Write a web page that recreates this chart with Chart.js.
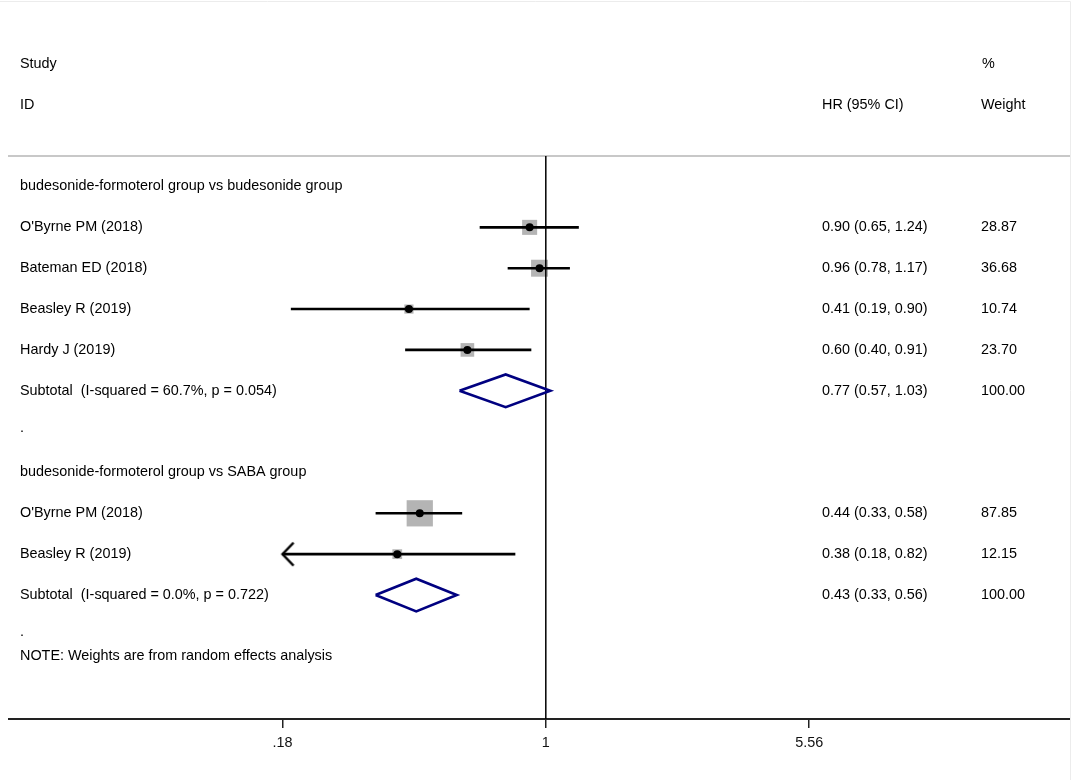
<!DOCTYPE html>
<html>
<head>
<meta charset="utf-8">
<script src="https://cdn.jsdelivr.net/npm/chart.js@4.4.1/dist/chart.umd.min.js"></script>
<style>
  html, body { margin: 0; padding: 0; background: #fff; }
  #wrap { width: 1072px; height: 780px; position: relative; }
</style>
</head>
<body>
<div id="wrap"><canvas id="forest"></canvas></div>
<script>
// Study rows
const studyLabels = ["O'Byrne PM (2018)", "Bateman ED (2018)", "Beasley R (2019)", "Hardy J (2019)",
                     "O'Byrne PM (2018)", "Beasley R (2019)"];
const studyRows = [1, 2, 3, 4, 8, 9];
const studyHR = [0.90, 0.96, 0.41, 0.60, 0.44, 0.38];
const studyLo = [0.65, 0.78, 0.19, 0.40, 0.33, 0.18];
const studyHi = [1.24, 1.17, 0.90, 0.91, 0.58, 0.82];
const studyWeight = [28.87, 36.68, 10.74, 23.70, 87.85, 12.15];

// Subgroup pooled rows
const groupLabels = ["budesonide-formoterol group vs budesonide group",
                     "budesonide-formoterol group vs SABA group"];
const groupRows = [0, 7];
const subLabels = ["Subtotal  (I-squared = 60.7%, p = 0.054)", "Subtotal  (I-squared = 0.0%, p = 0.722)"];
const subRows = [5, 10];
const subHR = [0.77, 0.43];
const subLo = [0.57, 0.33];
const subHi = [1.03, 0.56];
const subWeight = [100.00, 100.00];

// Axis ticks
const tickValues = [0.18, 1, 5.56];
const tickLabels = [".18", "1", "5.56"];

const FONT = '"Liberation Sans", Arial, sans-serif';
const yMin = -0.747, yMax = 13.035;
const xMin = 0.0303, xMax = 30.4;

// "<" arrow marker for truncated confidence intervals
function makeArrow() {
  const c = document.createElement("canvas");
  c.width = 28; c.height = 28;
  const g = c.getContext("2d");
  g.strokeStyle = "#000";
  g.lineWidth = 2.5;
  g.beginPath();
  g.moveTo(25, 2.5);
  g.lineTo(14, 14);
  g.lineTo(25, 25.5);
  g.stroke();
  return c;
}
const arrowImg = makeArrow();

const datasets = [];

// dots on top
datasets.push({
  type: "scatter", order: 1,
  data: studyHR.map((v, i) => ({ x: v, y: studyRows[i] })),
  pointStyle: "circle", pointRadius: 4, backgroundColor: "#000", borderWidth: 0
});

// confidence interval lines
studyLo.forEach((lo, i) => {
  datasets.push({
    type: "line", order: 2,
    data: [{ x: lo, y: studyRows[i] }, { x: studyHi[i], y: studyRows[i] }],
    borderColor: "#000", borderWidth: 2.6, pointRadius: 0, fill: false
  });
});

// arrow where CI reaches the axis limit
datasets.push({
  type: "scatter", order: 2,
  data: studyLo.map((lo, i) => ({ x: lo, y: studyRows[i] })).filter(p => p.x <= tickValues[0]),
  pointStyle: arrowImg, pointRadius: 14
});

// pooled diamonds
subHR.forEach((hr, i) => {
  const r = subRows[i];
  datasets.push({
    type: "line", order: 3,
    data: [{ x: subLo[i], y: r }, { x: hr, y: r - 0.4 }, { x: subHi[i], y: r },
           { x: hr, y: r + 0.4 }, { x: subLo[i], y: r }],
    borderColor: "#000080", borderWidth: 2.6, pointRadius: 0, fill: false,
    borderJoinStyle: "miter"
  });
});

// null line
datasets.push({
  type: "line", order: 4,
  data: [{ x: 1, y: yMin }, { x: 1, y: yMax }],
  borderColor: "#000", borderWidth: 1.5, pointRadius: 0
});

// weight boxes
datasets.push({
  type: "scatter", order: 5,
  data: studyHR.map((v, i) => ({ x: v, y: studyRows[i] })),
  pointStyle: "rect",
  pointRadius: studyWeight.map(w => 2.8 * Math.sqrt(w) / Math.SQRT2),
  backgroundColor: "#b4b4b4", borderWidth: 0
});

const textPlugin = {
  id: "forestText",
  beforeDatasetsDraw(chart) {
    const ctx = chart.ctx;
    const a = chart.chartArea;
    ctx.save();
    ctx.strokeStyle = "#c8c8c8";
    ctx.lineWidth = 2;
    ctx.beginPath();
    ctx.moveTo(8, a.top);
    ctx.lineTo(1070, a.top);
    ctx.stroke();
    ctx.strokeStyle = "#ececec";
    ctx.lineWidth = 1;
    ctx.beginPath();
    ctx.moveTo(0, 1.5); ctx.lineTo(1070.5, 1.5); ctx.lineTo(1070.5, 780);
    ctx.stroke();
    ctx.restore();
  },
  afterDraw(chart) {
    const ctx = chart.ctx;
    const y = chart.scales.y;
    const py = r => y.getPixelForValue(r);
    ctx.save();
    ctx.font = "14.4px " + FONT;
    ctx.fillStyle = "#000";
    ctx.textBaseline = "middle";
    ctx.textAlign = "left";
    const put = (t, x, r) => ctx.fillText(t, x, py(r));

    put("Study", 20, -3);
    put("ID", 20, -2);
    put("%", 982, -3);
    put("HR (95% CI)", 822, -2);
    put("Weight", 981, -2);

    groupLabels.forEach((t, i) => put(t, 20, groupRows[i]));
    studyLabels.forEach((t, i) => {
      put(t, 20, studyRows[i]);
      put(studyHR[i].toFixed(2) + " (" + studyLo[i].toFixed(2) + ", " + studyHi[i].toFixed(2) + ")", 822, studyRows[i]);
      put(studyWeight[i].toFixed(2), 981, studyRows[i]);
    });
    subLabels.forEach((t, i) => {
      put(t, 20, subRows[i]);
      put(subHR[i].toFixed(2) + " (" + subLo[i].toFixed(2) + ", " + subHi[i].toFixed(2) + ")", 822, subRows[i]);
      put(subWeight[i].toFixed(2), 981, subRows[i]);
    });
    put(".", 20, 5.9);
    put(".", 20, 10.9);
    put("NOTE: Weights are from random effects analysis", 20, 11.5);
    ctx.restore();
  }
};

new Chart(document.getElementById("forest"), {
  data: { datasets },
  options: {
    responsive: true,
    maintainAspectRatio: false,
    animation: false,
    layout: { autoPadding: false, padding: { left: 9, right: 2, top: 156, bottom: 11 } },
    plugins: { legend: { display: false }, tooltip: { enabled: false } },
    scales: {
      x: {
        type: "logarithmic",
        min: xMin, max: xMax,
        afterBuildTicks: s => { s.ticks = tickValues.map(v => ({ value: v })); },
        afterFit: s => { s.height = 50; },
        grid: { drawOnChartArea: false, drawTicks: true, tickLength: 9, color: "#222", lineWidth: 1.5 },
        border: { display: true, color: "#222", width: 2 },
        ticks: {
          autoSkip: false, maxRotation: 0, padding: 6, color: "#111",
          font: { family: FONT, size: 14.4 },
          callback: (v) => tickLabels[tickValues.indexOf(v)]
        }
      },
      y: { type: "linear", reverse: true, min: yMin, max: yMax, display: false }
    }
  },
  plugins: [textPlugin]
});
</script>
</body>
</html>
